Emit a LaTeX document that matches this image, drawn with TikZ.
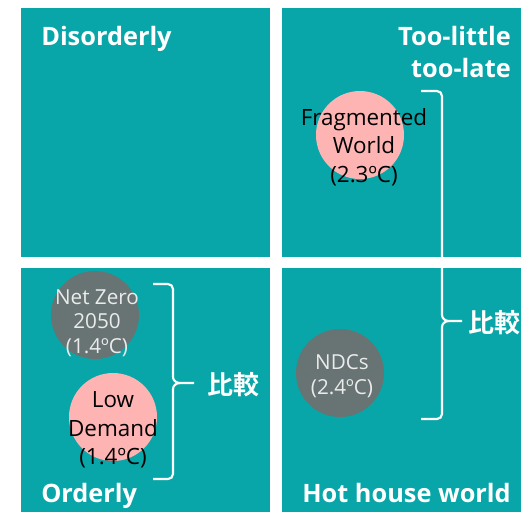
\documentclass[tikz,border=0pt]{standalone}
\usepackage{fontspec}
\setmainfont{Open Sans}
\newfontfamily\cjkb[BoldFont={Noto Sans CJK JP Bold}]{Noto Sans CJK JP}
\definecolor{teal1}{RGB}{8,166,168}
\definecolor{pinkc}{RGB}{255,180,180}
\definecolor{grayc}{RGB}{104,116,115}
\definecolor{lightt}{RGB}{235,235,235}
\begin{document}
\begin{tikzpicture}[x=0.75pt,y=-0.75pt,
  quad/.style={fill=teal1,draw=none},
  circ/.style={circle,minimum size=66pt,inner sep=0pt},
  title/.style={text=white,font=\bfseries\fontsize{19}{24}\selectfont,inner sep=0pt},
  lblp/.style={align=center,text=black,font=\fontsize{16.8}{21.5}\selectfont,inner sep=0pt},
  lblg/.style={align=center,text=lightt,font=\fontsize{15.5}{18.5}\selectfont,inner sep=0pt},
  brace/.style={draw=white,line width=1.6pt},
  cmp/.style={text=white,font=\cjkb\bfseries\fontsize{19.5}{21}\selectfont,inner sep=0pt,anchor=west}]
\useasboundingbox (0,0) rectangle (521,512);
\fill[white] (0,0) rectangle (521,512);
\path[quad] (21,8) rectangle (270,257);
\path[quad] (282,8) rectangle (521,257);
\path[quad] (21,268) rectangle (270,512);
\path[quad] (282,268) rectangle (521,512);

\node[title,anchor=base west] (dis) at (41,45) {Disorderly};
\node[title,anchor=base east,align=right] (tlt) at (511,77) {Too-little\\[-0.5pt]too-late};
\node[title,anchor=base west] (ord) at (41,502) {Orderly};
\node[title,anchor=base east] (hot) at (511,502) {Hot house world};

\node[circ,fill=pinkc] (frag) at (360,135) {};
\node[lblp] (fragt) at (364,147) {Fragmented\\World\\(2.3ºC)};

\node[circ,fill=grayc] (nz) at (95,315) {};
\node[lblg] (nzt) at (97,323) {Net Zero\\2050\\(1.4ºC)};

\node[circ,fill=pinkc] (low) at (113,417) {};
\node[lblp] (lowt) at (113,430) {Low\\Demand\\(1.4ºC)};

\node[circ,fill=grayc] (ndc) at (340,373) {};
\node[lblg] (ndct) at (342,376) {NDCs\\(2.4ºC)};

% left brace
\coordinate (lb1) at (153,284);
\coordinate (lb2) at (153,479);
\coordinate (lbt) at (194,383);
\draw[brace] (lb1) -- (168,284) to[out=0,in=90] (173,289) -- (173,377)
  to[out=-90,in=180] (180,383) -- (lbt);
\draw[brace] (180,383) to[out=180,in=90] (173,389) -- (173,474)
  to[out=-90,in=0] (168,479) -- (lb2);
\node[cmp] (cmp1) at (207,385) {比較};

% right brace
\coordinate (rb1) at (421,91);
\coordinate (rb2) at (421,419);
\coordinate (rbt) at (462,321);
\draw[brace] (rb1) -- (437,91) to[out=0,in=90] (442,96) -- (442,315)
  to[out=-90,in=180] (449,321) -- (rbt);
\draw[brace] (449,321) to[out=180,in=90] (442,327) -- (442,414)
  to[out=-90,in=0] (437,419) -- (rb2);
\node[cmp] (cmp2) at (468,323) {比較};
\end{tikzpicture}
\end{document}
